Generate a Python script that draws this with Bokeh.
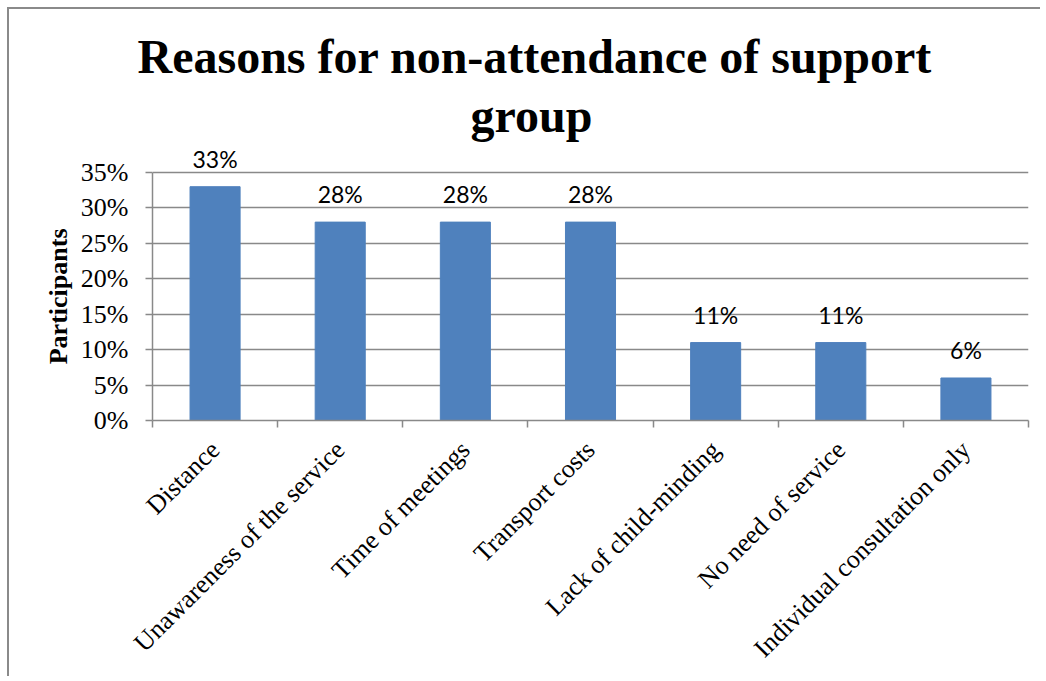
import math
from bokeh.plotting import figure
from bokeh.models import ColumnDataSource, FixedTicker, NumeralTickFormatter, Range1d, Label, Title
from bokeh.core.properties import value
from bokeh.embed import file_html
from bokeh.resources import INLINE

# ---- data ----
categories = [
    "Distance",
    "Unawareness of the service",
    "Time of meetings",
    "Transport costs",
    "Lack of child-minding",
    "No need of service",
    "Individual consultation only",
]
shares = [0.33, 0.28, 0.28, 0.28, 0.11, 0.11, 0.06]
y_ticks = [0.0, 0.05, 0.10, 0.15, 0.20, 0.25, 0.30, 0.35]
title_lines = ["Reasons for non-attendance of support", "group"]
y_label = "Participants"

n = len(categories)
xs = [i + 0.5 for i in range(n)]
src = ColumnDataSource(dict(x=xs, y=shares, label=[f"{round(v * 100)}%" for v in shares]))

GRID = "#898989"
SERIF = "Liberation Serif"

# frame extends above the 35% line to leave room for the second title line
p = figure(
    frame_width=876, frame_height=333,
    x_range=Range1d(0, n), y_range=Range1d(0, 0.47),
    output_backend="svg", toolbar_location=None,
    min_border_left=143, min_border_right=12,
    min_border_top=78, min_border_bottom=255,
)
p.outline_line_color = None
p.styles = {"margin-left": "7px", "margin-top": "7px",
            "border-left": "2px solid #8a8a8a", "border-top": "2px solid #8a8a8a"}

p.vbar(x="x", top="y", width=0.4, source=src, fill_color="#4F81BD", line_color="#4F81BD")
p.text(x="x", y="y", text="label", source=src, text_align="center",
       text_baseline="alphabetic", y_offset=-28, text_font=value("Lato"),
       text_font_size="23px", text_color="black")

# x axis
xa = p.xaxis[0]
xa.ticker = FixedTicker(ticks=xs, minor_ticks=list(range(n + 1)))
xa.major_label_overrides = {x: c for x, c in zip(xs, categories)}
xa.major_label_orientation = math.pi / 4
xa.major_tick_line_color = None
xa.major_tick_out = 0
xa.major_tick_in = 0
xa.minor_tick_line_color = GRID
xa.minor_tick_line_width = 1.5
xa.minor_tick_out = 7
xa.minor_tick_in = 0
xa.axis_line_color = GRID
xa.axis_line_width = 1.5
xa.major_label_standoff = 18
xa.major_label_text_font = SERIF
xa.major_label_text_font_size = "26px"
xa.major_label_text_color = "black"

# y axis
ya = p.yaxis[0]
ya.ticker = FixedTicker(ticks=y_ticks, minor_ticks=[])
ya.formatter = NumeralTickFormatter(format="0%")
ya.bounds = (0, 0.35)
ya.major_tick_out = 7
ya.major_tick_in = 0
ya.major_tick_line_color = GRID
ya.major_tick_line_width = 1.5
ya.minor_tick_line_color = None
ya.axis_line_color = GRID
ya.axis_line_width = 1.5
ya.major_label_standoff = 17
ya.major_label_text_font = SERIF
ya.major_label_text_font_size = "26px"
ya.major_label_text_color = "black"

# y-axis title, placed so it is centred on the 0-35% span
p.add_layout(Title(text=y_label, align="right", offset=141, standoff=10,
                   text_font=SERIF, text_font_style="bold",
                   text_font_size="26px", text_color="black"), "left")

p.xgrid.visible = False
p.ygrid.grid_line_color = GRID
p.ygrid.grid_line_width = 1.5

# chart title: first line above the frame, second line inside its top band
p.add_layout(Title(text=title_lines[0], align="left", offset=-15, standoff=10,
                   text_font=SERIF, text_font_style="bold",
                   text_font_size="48px", text_color="black"), "above")
p.add_layout(Label(x=379, y=305, x_units="screen", y_units="screen", text=title_lines[1],
                   text_align="center", text_baseline="alphabetic",
                   text_font=SERIF, text_font_style="bold",
                   text_font_size="48px", text_color="black"))

open("out.html", "w").write(file_html(p, INLINE))
